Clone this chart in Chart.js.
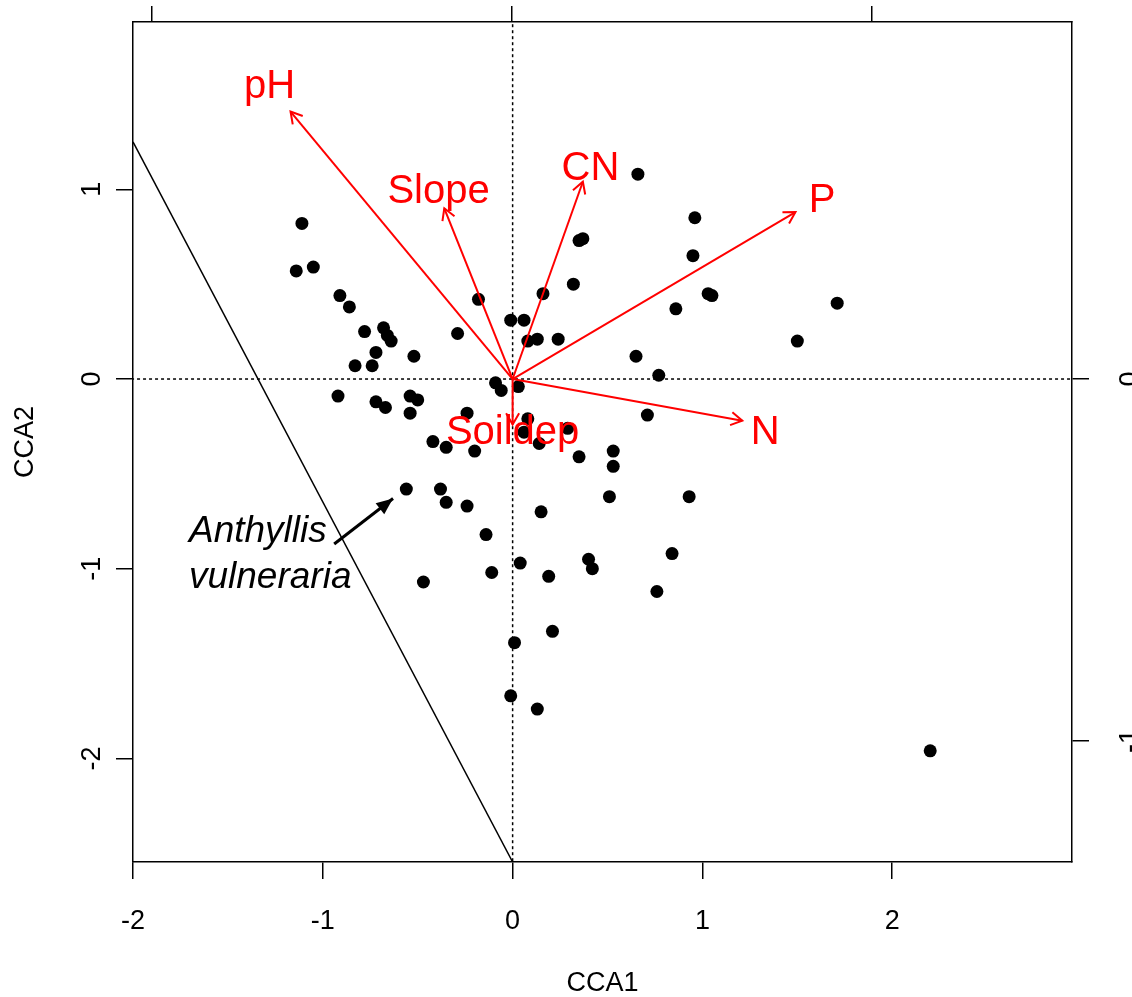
<!DOCTYPE html>
<html>
<head>
<meta charset="utf-8">
<title>CCA biplot</title>
<script src="https://cdn.jsdelivr.net/npm/chart.js@4.4.1/dist/chart.umd.min.js"></script>
<style>
  html, body { margin: 0; padding: 0; background: #fff; }
  #wrap { width: 1132px; height: 997px; }
</style>
</head>
<body>
<div id="wrap"><canvas id="cca" width="1132" height="997"></canvas></div>
<script>
// site scores
const siteX = [-1.11, -1.14, -1.05, -0.91, -0.86, -0.78, -0.68, -0.66, -0.64, -0.72,
               -0.83, -0.74, -0.52, -0.29, -0.18, -0.01, 0.06, 0.16, 0.32, 0.08,
               0.13, 0.24, 0.65, -0.09, -0.06, 0.03, -0.92, -0.72, -0.67, -0.54,
               -0.50, -0.54, -0.24, 0.08, 0.29, 0.06, 0.14, -0.42, -0.35, -0.20,
               0.35, 0.53, 0.53, 0.71, -0.56, -0.38, -0.35, -0.24, 0.51, 0.93,
               0.15, -0.14, 0.04, -0.11, 0.19, 0.40, 0.42, 0.84, -0.47, 0.76,
               0.21, 0.01, -0.01, 0.13, 0.66, 0.96, 0.35, 0.37, 0.95, 1.03,
               1.05, 1.71, 0.86, 1.50, 0.77, 2.20];
const siteY = [0.82, 0.57, 0.59, 0.44, 0.38, 0.25, 0.27, 0.23, 0.20, 0.14,
               0.07, 0.07, 0.12, 0.24, 0.42, 0.31, 0.31, 0.45, 0.50, 0.20,
               0.21, 0.21, 0.12, -0.02, -0.06, -0.04, -0.09, -0.12, -0.15, -0.09,
               -0.11, -0.18, -0.18, -0.21, -0.26, -0.28, -0.34, -0.33, -0.36, -0.38,
               -0.41, -0.38, -0.46, -0.19, -0.58, -0.58, -0.65, -0.67, -0.62, -0.62,
               -0.70, -0.82, -0.97, -1.02, -1.04, -0.95, -1.00, -0.92, -1.07, -1.12,
               -1.33, -1.39, -1.67, -1.74, 1.08, 0.85, 0.73, 0.74, 0.65, 0.45,
               0.44, 0.40, 0.37, 0.20, 0.02, -1.96];

// environmental vectors (arrow tips) and where their names sit
const envNames = ['pH', 'Slope', 'CN', 'P', 'N', 'Soildep'];
const envX = [-1.17, -0.36, 0.37, 1.49, 1.21, 0.00];
const envY = [1.41, 0.90, 1.04, 0.88, -0.22, -0.24];
const envLabelX = [-1.28, -0.39, 0.41, 1.63, 1.33, 0.00];
const envLabelY = [1.48, 0.93, 1.05, 0.88, -0.34, -0.34];

// boundary line and the highlighted species
const edgeX = [-2.0, 0.0];
const edgeY = [1.25, -2.546];
const speciesLines = ['Anthyllis', 'vulneraria'];
const speciesLabelX = -1.705;
const speciesLabelY = [-0.86, -1.10];
const speciesArrowX = [-0.94, -0.63];
const speciesArrowY = [-0.87, -0.63];

// axes
const xTicks = [-2, -1, 0, 1, 2];
const yTicks = [-2, -1, 0, 1];
const topTicks = [-1, 0, 1];
const rightTicks = [-1, 0];

const FONT = '"Liberation Sans", Arial, Helvetica, sans-serif';
const RED = '#ff0000';

function arrowHead(ctx, x0, y0, x1, y1, len, spread, filled) {
    const a = Math.atan2(y1 - y0, x1 - x0);
    ctx.beginPath();
    ctx.moveTo(x1 - len * Math.cos(a - spread), y1 - len * Math.sin(a - spread));
    ctx.lineTo(x1, y1);
    ctx.lineTo(x1 - len * Math.cos(a + spread), y1 - len * Math.sin(a + spread));
    if (filled) {
        ctx.closePath();
        ctx.fill();
    } else {
        ctx.stroke();
    }
}

const overlay = {
    id: 'overlay',
    afterDatasetsDraw(chart) {
        const { ctx, scales: { x, y } } = chart;
        const ox = x.getPixelForValue(0);
        const oy = y.getPixelForValue(0);

        ctx.save();
        ctx.strokeStyle = RED;
        ctx.lineWidth = 2;
        envNames.forEach((n, i) => {
            arrowHead(ctx, ox, oy, x.getPixelForValue(envX[i]), y.getPixelForValue(envY[i]),
                13, Math.PI / 6, false);
        });

        ctx.fillStyle = RED;
        ctx.font = '40px ' + FONT;
        ctx.textAlign = 'center';
        ctx.textBaseline = 'alphabetic';
        envNames.forEach((n, i) => {
            ctx.fillText(n, x.getPixelForValue(envLabelX[i]), y.getPixelForValue(envLabelY[i]));
        });

        // species pointer
        ctx.fillStyle = '#000';
        arrowHead(ctx,
            x.getPixelForValue(speciesArrowX[0]), y.getPixelForValue(speciesArrowY[0]),
            x.getPixelForValue(speciesArrowX[1]), y.getPixelForValue(speciesArrowY[1]),
            18, 0.4, true);
        ctx.font = 'italic 37px ' + FONT;
        ctx.textAlign = 'left';
        speciesLines.forEach((t, i) => {
            ctx.fillText(t, x.getPixelForValue(speciesLabelX), y.getPixelForValue(speciesLabelY[i]));
        });
        ctx.restore();
    },
    afterDraw(chart) {
        // R style y labels, parallel to the axis
        const { ctx, scales: { y, y2 } } = chart;
        ctx.save();
        ctx.fillStyle = '#000';
        ctx.font = '27px ' + FONT;
        ctx.textAlign = 'center';
        ctx.textBaseline = 'middle';
        const put = (txt, px, py) => {
            ctx.save();
            ctx.translate(px, py);
            ctx.rotate(-Math.PI / 2);
            ctx.fillText(txt, 0, 0);
            ctx.restore();
        };
        yTicks.forEach(v => put(String(v), 93, y.getPixelForValue(v)));
        rightTicks.forEach(v => put(String(v), 1131, y2.getPixelForValue(v)));
        ctx.restore();
    }
};

const lineStyle = { showLine: true, pointRadius: 0, fill: false, tension: 0 };

const datasets = [
    {
        data: siteX.map((v, i) => ({ x: v, y: siteY[i] })),
        pointRadius: 6.5, pointBackgroundColor: '#000', pointBorderWidth: 0,
        showLine: false, order: 5
    },
    { ...lineStyle, data: [{ x: -2.2, y: 0 }, { x: 3.1, y: 0 }],
      borderColor: '#000', borderWidth: 1.5, borderDash: [3, 3], order: 6 },
    { ...lineStyle, data: [{ x: 0, y: -2.7 }, { x: 0, y: 2.0 }],
      borderColor: '#000', borderWidth: 1.5, borderDash: [3, 3], order: 6 },
    { ...lineStyle, data: edgeX.map((v, i) => ({ x: v, y: edgeY[i] })),
      borderColor: '#000', borderWidth: 1.5, order: 6 },
    { ...lineStyle, data: speciesArrowX.map((v, i) => ({ x: v, y: speciesArrowY[i] })),
      borderColor: '#000', borderWidth: 3, order: 2 },
    ...envNames.map((n, i) => ({
        ...lineStyle, data: [{ x: 0, y: 0 }, { x: envX[i], y: envY[i] }],
        borderColor: RED, borderWidth: 2, order: 1
    }))
];

const tickGrid = { drawOnChartArea: false, drawTicks: true, tickLength: 17, color: '#000', lineWidth: 1.5 };
const frame = { display: true, color: '#000', width: 1.5 };

new Chart(document.getElementById('cca'), {
    type: 'scatter',
    data: { datasets },
    options: {
        responsive: false,
        animation: false,
        devicePixelRatio: 1,
        layout: { padding: 0 },
        plugins: { legend: { display: false }, tooltip: { enabled: false } },
        scales: {
            x: {
                type: 'linear', position: 'bottom', min: -2, max: 2.947,
                afterBuildTicks: s => { s.ticks = xTicks.map(v => ({ value: v })); },
                afterFit: s => { s.height = 135; },
                grid: tickGrid, border: frame,
                ticks: { color: '#000', font: { family: FONT, size: 27 }, padding: 26,
                         maxRotation: 0, minRotation: 0, callback: v => String(v) },
                title: { display: true, text: 'CCA1', color: '#000',
                         font: { family: FONT, size: 27 }, padding: { top: 0, bottom: -3 } }
            },
            y: {
                type: 'linear', position: 'left', min: -2.546, max: 1.882,
                afterBuildTicks: s => { s.ticks = yTicks.map(v => ({ value: v })); },
                afterFit: s => { s.width = 133; },
                grid: tickGrid, border: frame,
                ticks: { display: false },
                title: { display: true, text: 'CCA2', color: '#000',
                         font: { family: FONT, size: 27 }, padding: { top: 9, bottom: 0 } }
            },
            x2: {
                type: 'linear', position: 'top', min: -1.053, max: 1.556,
                afterBuildTicks: s => { s.ticks = topTicks.map(v => ({ value: v })); },
                afterFit: s => { s.height = 22; },
                grid: { ...tickGrid, tickLength: 16 }, border: frame,
                ticks: { display: false }
            },
            y2: {
                type: 'linear', position: 'right', min: -1.334, max: 0.986,
                afterBuildTicks: s => { s.ticks = rightTicks.map(v => ({ value: v })); },
                afterFit: s => { s.width = 60; },
                grid: tickGrid, border: frame,
                ticks: { display: false }
            }
        }
    },
    plugins: [overlay]
});
</script>
</body>
</html>
